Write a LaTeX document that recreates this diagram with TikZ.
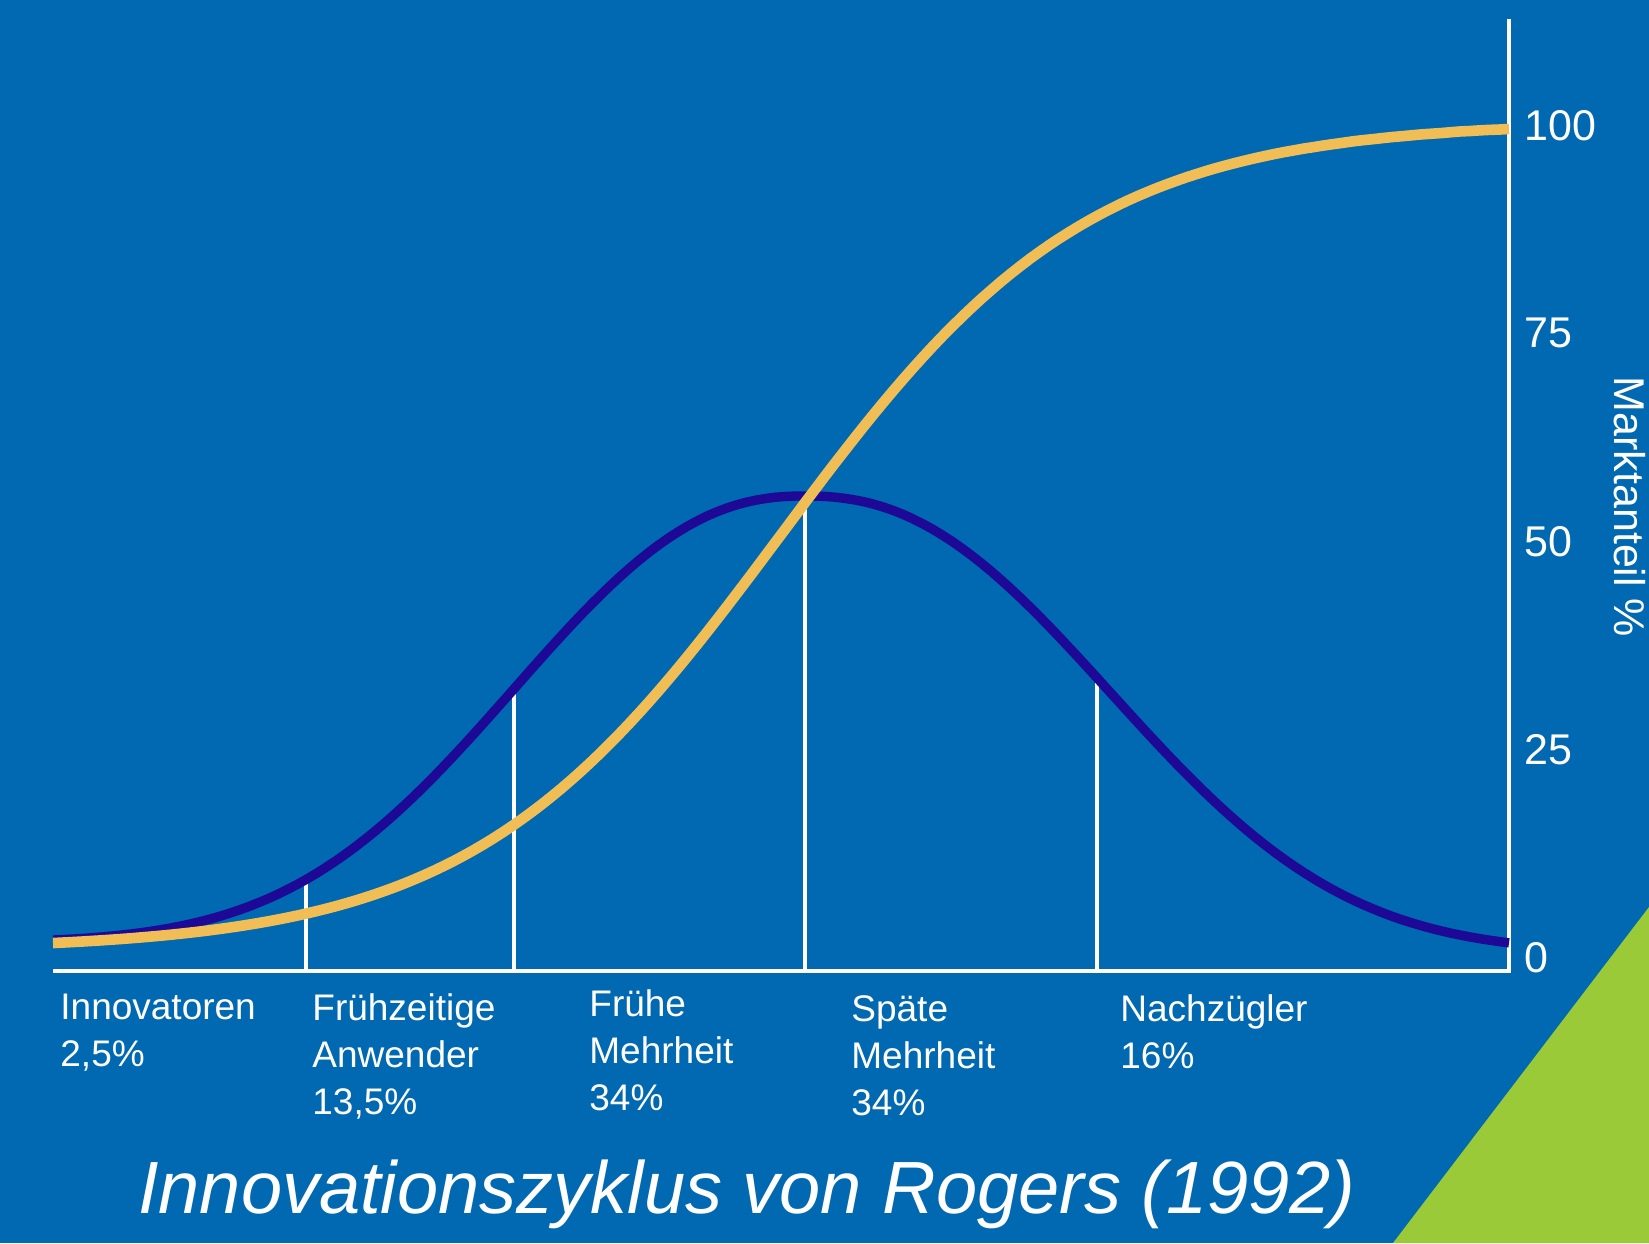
\documentclass[tikz,border=0pt]{standalone}
\usepackage{fontspec}
\setmainfont{Liberation Sans}
\definecolor{bgblue}{RGB}{0,105,178}
\definecolor{bellblue}{RGB}{30,8,150}
\definecolor{sgold}{RGB}{240,190,85}
\definecolor{cornergreen}{RGB}{154,202,56}

\begin{document}
\begin{tikzpicture}[x=0.5pt,y=-0.5pt,
  declare function={
    bell(\x)=(\x<805)*exp(-0.5*((abs(\x-805)+0.01)/276)^2.3)+(\x>=805)*(exp(-0.5*((abs(\x-805)+0.01)/290)^2.3)-0.021)/0.979;
    adopt(\x)=(1/(1+exp(-1.702*(\x-780)/263))-0.009)/0.982;
  },
  grp/.style={anchor=base west,align=left,inner sep=0pt,text=white,
    font=\fontsize{18.5}{23.5}\selectfont},
  tick/.style={anchor=west,inner sep=0pt,text=white,
    font=\fontsize{21.5}{26}\selectfont}]
% background and green corner
\fill[bgblue] (0,0) rectangle (1649,1243);
\fill[cornergreen] (1393,1243) -- (1649,907) -- (1649,1243) -- cycle;
% axes
\coordinate (left) at (53,971);
\coordinate (orig) at (1509,971);
\coordinate (top) at (1509,19);
\draw[white, line width=2pt] (left) -- (orig) -- (top);
% group borders
\foreach \xv in {306,514,805,1097}
  \draw[white, line width=1.7pt] (\xv,971) -- (\xv,{943-447*bell(\xv)});
% curves
\draw[bellblue, line width=4.7pt, domain=53:1509, samples=150] plot (\x, {943-447*bell(\x)});
\draw[sgold, line width=5.3pt, domain=53:1509, samples=150] plot (\x, {943-814*adopt(\x)});
% scale
\foreach \v [count=\i from 0] in {0,25,50,75,100}
  \node[tick] (t\v) at (1524,{958-208.2*\i}) {\v};
\node[rotate=-90, inner sep=0pt, text=white, font=\fontsize{21.5}{26}\selectfont] (ylab) at (1630,507) {Marktanteil \%};
% adopter groups (anchored at last line)
\node[grp] (inno) at (60,1066) {Innovatoren\\2,5\%};
\node[grp] (early) at (312,1114) {Frühzeitige\\Anwender\\13,5\%};
\node[grp] (emaj) at (589,1110) {Frühe\\Mehrheit\\34\%};
\node[grp] (lmaj) at (851,1115) {Späte\\Mehrheit\\34\%};
\node[grp] (lagg) at (1120,1068) {Nachzügler\\16\%};
\node[text=white, inner sep=0pt, font=\fontsize{37}{44}\selectfont\itshape] (title) at (747,1194) {Innovationszyklus von Rogers (1992)};
\end{tikzpicture}
\end{document}
